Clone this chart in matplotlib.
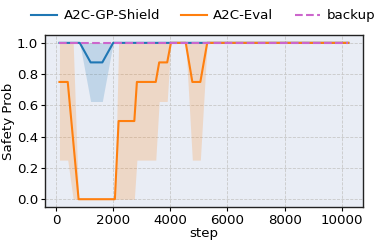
import matplotlib
matplotlib.use('Agg')
import matplotlib.pyplot as plt

# A2C-Eval: step, mean, lower, upper
EVAL_STEP = [120, 410, 600, 790, 2060, 2190, 2740, 2830, 3490, 3610, 3890, 4020,
             4540, 4770, 5050, 5290, 10230]
EVAL_MEAN = [0.75, 0.75, 0.375, 0.0, 0.0, 0.5, 0.5, 0.75, 0.75, 0.875, 0.875, 1.0,
             1.0, 0.75, 0.75, 1.0, 1.0]
EVAL_LO = [0.25, 0.25, 0.0, 0.0, 0.0, 0.0, 0.0, 0.25, 0.25, 0.625, 0.625, 1.0,
           1.0, 0.25, 0.25, 1.0, 1.0]
EVAL_HI = [1.0, 1.0, 1.0, 0.0, 0.0, 1.0, 1.0, 1.0, 1.0, 1.0, 1.0, 1.0,
           1.0, 1.0, 1.0, 1.0, 1.0]

# A2C-GP-Shield
SHIELD_STEP = [120, 830, 1210, 1620, 2000, 10230]
SHIELD_MEAN = [1.0, 1.0, 0.875, 0.875, 1.0, 1.0]
SHIELD_LO = [1.0, 1.0, 0.625, 0.625, 1.0, 1.0]
SHIELD_HI = [1.0, 1.0, 1.0, 1.0, 1.0, 1.0]

# backup policy
BACKUP_STEP = [120, 10230]
BACKUP_PROB = [1.0, 1.0]

BLUE = '#1f77b4'
ORANGE = '#ff7f0e'
PURPLE = '#cc66cc'

plt.rcParams['font.size'] = 9.6

fig = plt.figure(figsize=(3.89, 2.45), dpi=100)
ax = fig.add_axes([0.1157, 0.155, 0.817, 0.702])
ax.set_facecolor('#e9edf5')

ax.fill_between(SHIELD_STEP, SHIELD_LO, SHIELD_HI, color=BLUE, alpha=0.2, linewidth=0)
ax.fill_between(EVAL_STEP, EVAL_LO, EVAL_HI, color=ORANGE, alpha=0.2, linewidth=0)
ax.plot(SHIELD_STEP, SHIELD_MEAN, color=BLUE, lw=1.5, label='A2C-GP-Shield')
ax.plot(EVAL_STEP, EVAL_MEAN, color=ORANGE, lw=1.5, label='A2C-Eval')
ax.plot(BACKUP_STEP, BACKUP_PROB, color=PURPLE, lw=1.5, ls='--', label='backup')

ax.set_xticks([0, 2000, 4000, 6000, 8000, 10000])
ax.set_yticks([0.0, 0.2, 0.4, 0.6, 0.8, 1.0])
ax.grid(True, ls='--', color='#c8c8c8', lw=0.6)
ax.set_axisbelow(True)
ax.set_xlabel('step', labelpad=0)
ax.set_ylabel('Safety Prob', labelpad=1)
ax.tick_params(length=3, pad=2)
for s in ax.spines.values():
    s.set_color('#222222')
    s.set_linewidth(1.0)

fig.legend(loc='center', bbox_to_anchor=(0.523, 0.935), ncol=3, frameon=False,
           handlelength=1.9, columnspacing=1.6, handletextpad=0.5)

fig.savefig('out.png', dpi=100)
